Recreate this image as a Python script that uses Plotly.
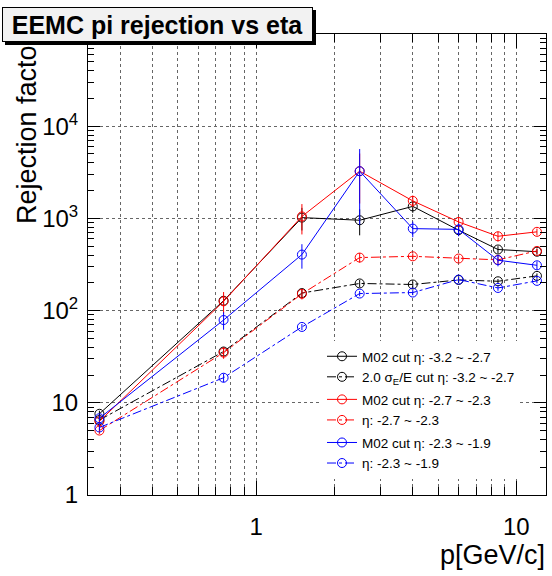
import plotly.graph_objects as go
import math

# ---------------- data ----------------
p_vals = [0.25, 0.75, 1.5, 2.5, 4.0, 6.0, 8.5, 12.0]

blk_m02 = [7.6, 128, 1020, 955, 1350, 745, 460, 435]
blk_m02_err = [0.6, 15, 280, 300, 200, 100, 40, 30]
blk_sig = [6.5, 36, 155, 197, 192, 215, 208, 238]
blk_sig_err = [0.4, 4, 15, 18, 15, 15, 12, 15]

red_m02 = [6.3, 126, 1050, 3250, 1550, 915, 640, 715]
red_m02_err = [0.5, 33, 380, 1800, 220, 120, 80, 60]
red_sig = [5.0, 35, 152, 376, 388, 367, 355, 444]
red_sig_err = [0.4, 5, 20, 45, 30, 30, 25, 30]

blu_m02 = [6.8, 79, 405, 3250, 775, 760, 352, 310]
blu_m02_err = [0.5, 17, 120, 2400, 150, 120, 50, 30]
blu_sig = [5.4, 18.7, 66.5, 153, 157, 217, 176, 210]
blu_sig_err = [0.4, 2, 5, 10, 10, 15, 12, 12]

names = [
    "M02 cut η: -3.2 ~ -2.7",
    "2.0 σ<sub>E</sub>/E cut η: -3.2 ~ -2.7",
    "M02 cut η: -2.7 ~ -2.3",
    "η: -2.7 ~ -2.3",
    "M02 cut η: -2.3 ~ -1.9",
    "η: -2.3 ~ -1.9",
]

x_major = [1, 10]
x_minor = [0.3, 0.4, 0.5, 0.6, 0.7, 0.8, 0.9, 2, 3, 4, 5, 6, 7, 8, 9]
y_major = [1, 10, 100, 1000, 10000, 100000]
y_major_text = ["1", "10", "10<sup>2</sup>", "10<sup>3</sup>", "10<sup>4</sup>", "10<sup>5</sup>"]
y_minor = [m * 10 ** k for k in range(5) for m in range(2, 10)]

# ---------------- figure ----------------
W, H = 552, 576
ML, MR, MT, MB = 88, 6, 34, 81
PW, PH = W - ML - MR, H - MT - MB


def px(xp):
    return (xp - ML) / PW


def py(yp):
    return (H - MB - yp) / PH


FONT = "Liberation Sans, Arial, Helvetica, sans-serif"

series = [
    (blk_m02, blk_m02_err, "black", "solid", "g1"),
    (blk_sig, blk_sig_err, "black", "dashdot", "g1"),
    (red_m02, red_m02_err, "red", "solid", "g2"),
    (red_sig, red_sig_err, "red", "dashdot", "g2"),
    (blu_m02, blu_m02_err, "blue", "solid", "g3"),
    (blu_sig, blu_sig_err, "blue", "dashdot", "g3"),
]

fig = go.Figure()
for (vals, errs, col, dash, grp), nm in zip(series, names):
    fig.add_trace(go.Scatter(
        x=p_vals, y=vals, name=nm, legendgroup=grp,
        mode="lines+markers",
        line=dict(color=col, width=1, dash=dash),
        marker=dict(symbol="circle-open", size=9, color=col, line=dict(width=1, color=col)),
        error_y=dict(type="data", array=errs, visible=True, color=col, thickness=1, width=0),
    ))

fig.update_layout(
    width=W, height=H,
    margin=dict(l=ML, r=MR, t=MT, b=MB, pad=0),
    paper_bgcolor="white", plot_bgcolor="white",
    font=dict(family=FONT, color="black"),
    showlegend=True,
    legend=dict(
        x=px(322), y=py(341), xanchor="left", yanchor="top",
        bgcolor="white", borderwidth=0,
        font=dict(size=13.5, family=FONT),
        tracegroupgap=2, itemwidth=30,
    ),
    xaxis=dict(
        type="log", range=[math.log10(0.226), math.log10(13.0)],
        tickmode="array", tickvals=x_major, ticktext=["1", "10"],
        ticks="inside", ticklen=14, tickcolor="black", tickwidth=1,
        showline=True, linecolor="black", linewidth=1, mirror="allticks",
        showgrid=True, gridcolor="#666", griddash="dot", gridwidth=1,
        tickfont=dict(size=24), ticklabelstandoff=10,
        minor=dict(tickmode="array", tickvals=x_minor, ticks="inside", ticklen=8,
                   tickcolor="black", showgrid=True, gridcolor="#666", griddash="dot", gridwidth=1),
        zeroline=False,
    ),
    yaxis=dict(
        type="log", range=[0, 5],
        tickmode="array", tickvals=y_major, ticktext=y_major_text,
        ticks="inside", ticklen=12, tickcolor="black", tickwidth=1,
        showline=True, linecolor="black", linewidth=1, mirror="allticks",
        showgrid=True, gridcolor="#666", griddash="dot", gridwidth=1,
        tickfont=dict(size=24), ticklabelstandoff=4,
        minor=dict(tickmode="array", tickvals=y_minor, ticks="inside", ticklen=6,
                   tickcolor="black", showgrid=False),
        zeroline=False,
    ),
)

# title shadow
fig.add_shape(type="rect", xref="paper", yref="paper",
              x0=px(5), x1=px(316), y0=py(45), y1=py(10),
              fillcolor="black", line=dict(width=0), layer="above")

# axis titles
fig.add_annotation(text="Rejection factor", xref="paper", yref="paper",
                   x=px(27), y=py(226), xanchor="center", yanchor="bottom",
                   textangle=-90, showarrow=False, font=dict(size=27, family=FONT))
fig.add_annotation(text="p[GeV/c]", xref="paper", yref="paper",
                   x=px(547), y=py(555), xanchor="right", yanchor="middle",
                   showarrow=False, font=dict(size=27, family=FONT))

# title box
fig.add_annotation(text="<b>EEMC pi rejection vs eta</b>", xref="paper", yref="paper",
                   x=px(157.5), y=py(24.5), xanchor="center", yanchor="middle",
                   showarrow=False, font=dict(size=25, family=FONT),
                   bgcolor="#f2f2f2", bordercolor="black", borderwidth=1,
                   width=307, height=31, borderpad=1)

fig.write_html("out.html")
